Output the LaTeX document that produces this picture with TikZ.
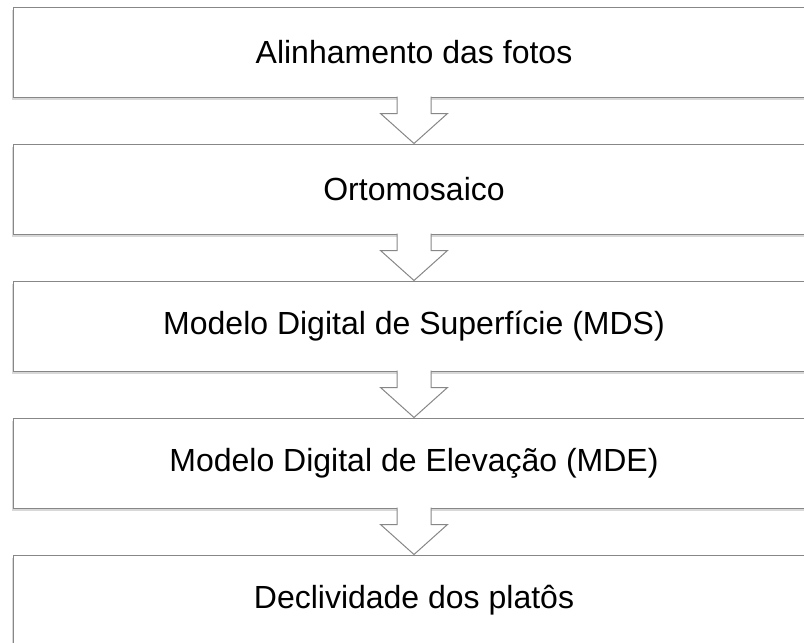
\documentclass[tikz,border=0pt]{standalone}
\usepackage{fontspec}
\setmainfont{Liberation Sans}
\usetikzlibrary{calc,shadows}
\definecolor{edgegray}{RGB}{135,135,135}
\begin{document}
\begin{tikzpicture}[x=1pt,y=-1pt,
  stepbox/.style={draw=edgegray, line width=1pt, fill=white,
    minimum width=802pt, minimum height=90pt, inner sep=0pt,
    font=\fontsize{32}{38}\selectfont,
    drop shadow={shadow xshift=-1pt, shadow yshift=-2.5pt, opacity=0.22, fill=black!70}},
  flowarrow/.style={draw=edgegray, line width=1pt, fill=white, line join=miter}]
\useasboundingbox (0,0) rectangle (804,643);
\node[stepbox] (b1) at (414,52) {Alinhamento das fotos};
\node[stepbox] (b2) at (414,189) {Ortomosaico};
\node[stepbox] (b3) at (414,326) {Modelo Digital de Superfície (MDS)};
\node[stepbox] (b4) at (414,463) {Modelo Digital de Elevação (MDE)};
\node[stepbox] (b5) at (414,600) {Declividade dos platôs};
\foreach \a/\b in {b1/b2,b2/b3,b3/b4,b4/b5}{
  \draw[flowarrow] ($(\a.south)+(-17,-1)$) -- ($(\a.south)+(-17,16)$)
    -- ($(\a.south)+(-33.5,16)$) -- (\b.north)
    -- ($(\a.south)+(33.5,16)$) -- ($(\a.south)+(17,16)$)
    -- ($(\a.south)+(17,-1)$);
}
\end{tikzpicture}
\end{document}
